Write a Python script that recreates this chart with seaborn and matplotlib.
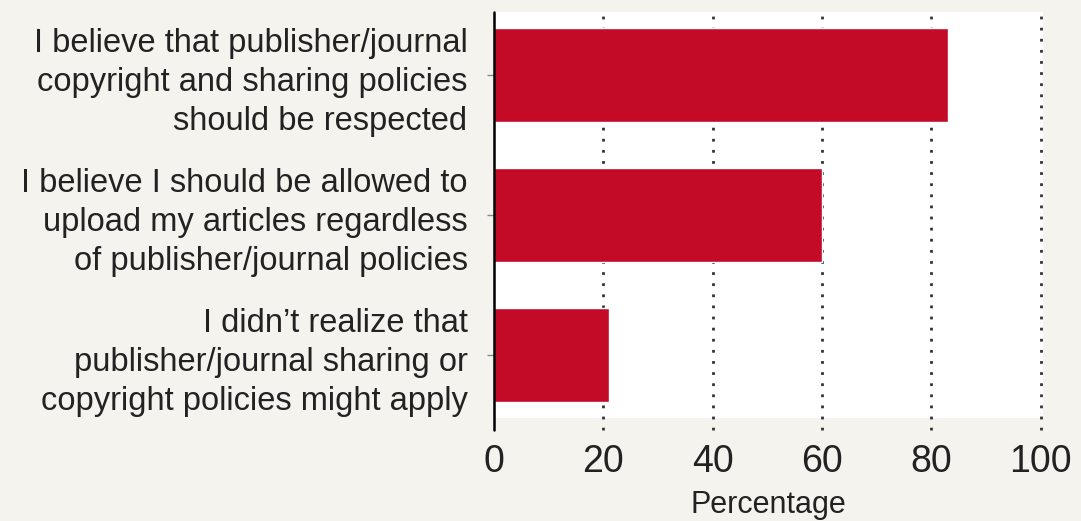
import matplotlib
matplotlib.use("Agg")
import matplotlib.pyplot as plt
import seaborn as sns
import pandas as pd

# Data
labels = [
    "I believe that publisher/journal\ncopyright and sharing policies\nshould be respected",
    "I believe I should be allowed to\nupload my articles regardless\nof publisher/journal policies",
    "I didn\u2019t realize that\npublisher/journal sharing or\ncopyright policies might apply",
]
values = [83, 60, 21]
xticks = [0, 20, 40, 60, 80, 100]

df = pd.DataFrame({"label": labels, "pct": values})

sns.set_style("white")
plt.rcParams["font.family"] = ["Liberation Sans", "DejaVu Sans"]

bg = "#f4f3ee"
red = "#c30a27"

fig = plt.figure(figsize=(10.81, 5.21), dpi=100, facecolor=bg)
ax = fig.add_axes([494 / 1081, 1 - 418 / 521, (1043 - 494) / 1081, (418 - 12) / 521])
ax.set_facecolor("white")

sns.barplot(data=df, x="pct", y="label", orient="h", color=red, width=0.67,
            saturation=1, ax=ax, zorder=3)

ax.set_xlim(0, 100.4)
ax.set_ylim(2.45, -0.45)

# dotted grid lines running a bit below the plot area
for t in xticks[1:]:
    ax.axvline(t, ymin=-0.03, ymax=1, color="#333333", linestyle=(0, (1, 3)),
               linewidth=2.0, clip_on=False, zorder=2)
ax.axvline(0, ymin=-0.03, ymax=1, color="black", linewidth=1.8, clip_on=False, zorder=4)

for s in ax.spines.values():
    s.set_visible(False)

ax.set_xticks(xticks)
ax.set_xticklabels([str(t) for t in xticks], fontsize=27, color="#222222")
ax.tick_params(axis="x", length=0, pad=19)
ax.tick_params(axis="y", length=5, width=1, color="#888888", left=True, pad=14)
for lab in ax.get_yticklabels():
    lab.set_fontsize(23.5)
    lab.set_color("#222222")
    lab.set_linespacing(1.32)

ax.set_ylabel("")
ax.set_xlabel("Percentage", fontsize=22, color="#222222", labelpad=7)

fig.savefig("out.png", dpi=100, facecolor=bg)
